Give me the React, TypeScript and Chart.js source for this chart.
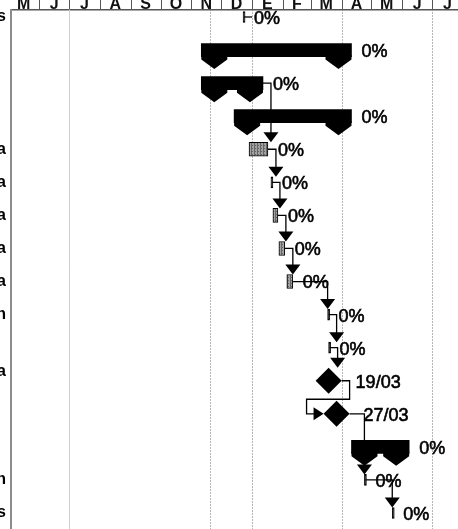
import { useEffect, useRef } from 'react';
import { Chart, registerables } from 'chart.js';

Chart.register(...registerables);

// ---- timescale -------------------------------------------------------------
const BASE_DATE = '2008-05-01';
const MONTH_LETTERS = ['M', 'J', 'J', 'A', 'S', 'O', 'N', 'D', 'E', 'F', 'M', 'A', 'M', 'J', 'J'];
const VIEW_START = 2.66; // days after BASE_DATE visible at the table divider
const VIEW_END = 452.1;

// ---- rows (top to bottom) ---------------------------------------------------
// Only the last letters of the task names are visible next to the divider.
const ROW_LABELS: (string | string[])[] = ['s', '', '', '', 'a', 'a', 'a', 'a', 'a', 'n', '', ['a', ''], '', '', 'n', 's'];
const TASK_KIND = ['point', 'summary', 'summary', 'summary', 'task', 'point', 'task', 'task', 'task', 'point', 'point', 'milestone', 'milestone', 'summary', 'point', 'point'];
const TASK_START = ['2008-12-23', '2008-11-11', '2008-11-11', '2008-12-14', '2008-12-29', '2009-01-20', '2009-01-22', '2009-01-28', '2009-02-05', '2009-03-18', '2009-03-19', '2009-03-19', '2009-03-27', '2009-04-11', '2009-04-24', '2009-05-22'];
const TASK_END = ['2008-12-23', '2009-04-11', '2009-01-12', '2009-04-11', '2009-01-17', '2009-01-20', '2009-01-27', '2009-02-03', '2009-02-11', '2009-03-18', '2009-03-19', '2009-03-19', '2009-03-27', '2009-06-08', '2009-04-24', '2009-05-22'];
const PERCENT_DONE = [0, 0, 0, 0, 0, 0, 0, 0, 0, 0, 0, 0, 0, 0, 0, 0];

// finish-to-start links: [from row, to row, routing]
const LINKS: [number, number, 'down' | 'back'][] = [
  [2, 4, 'down'],
  [4, 5, 'down'],
  [5, 6, 'down'],
  [6, 7, 'down'],
  [7, 8, 'down'],
  [8, 9, 'down'],
  [9, 10, 'down'],
  [10, 11, 'down'],
  [11, 12, 'back'],
  [12, 14, 'down'],
  [14, 15, 'down'],
];
const STUB_ROWS = [0];

// vertical markers in the bar area
const DOTTED_DATES = ['2008-11-20', '2009-01-01', '2009-04-01', '2009-07-01'];
const LIGHT_DATES = ['2008-07-01'];

// ---- helpers -----------------------------------------------------------------
const DAY_MS = 86400000;
const baseMs = Date.parse(BASE_DATE + 'T00:00:00Z');
const dayOf = (s: string) => (Date.parse(s + 'T00:00:00Z') - baseMs) / DAY_MS;
const ddmm = (s: string) => `${s.slice(8, 10)}/${s.slice(5, 7)}`;

const monthBounds: number[] = [];
for (let i = 0; i <= MONTH_LETTERS.length; i++) {
  const d = new Date(baseMs);
  d.setUTCMonth(d.getUTCMonth() + i);
  monthBounds.push((d.getTime() - baseMs) / DAY_MS);
}
const monthMids = MONTH_LETTERS.map((_, i) => (monthBounds[i] + monthBounds[i + 1]) / 2);

const rowsOf = (kind: string) => TASK_KIND.map((k, i) => (k === kind ? i : -1)).filter((i) => i >= 0);

const MS_R = 13; // milestone half-diagonal
const FONT = 'Liberation Sans, Arial, sans-serif';

function makeHatch(): CanvasPattern | string {
  const c = document.createElement('canvas');
  c.width = 3;
  c.height = 3;
  const g = c.getContext('2d');
  if (!g) return '#8f8f8f';
  g.fillStyle = '#a2a2a2';
  g.fillRect(0, 0, 3, 3);
  g.fillStyle = '#666';
  g.fillRect(2, 0, 1, 3);
  g.fillRect(0, 1, 1, 1);
  return g.createPattern(c, 'repeat') || '#8f8f8f';
}

const ganttDecor = {
  id: 'ganttDecor',
  beforeDatasetsDraw(chart: any) {
    const { ctx, chartArea: a, scales } = chart;
    const xs = scales.x;
    ctx.save();
    // month separators in the header
    ctx.strokeStyle = '#555';
    ctx.lineWidth = 1;
    monthBounds.forEach((b) => {
      if (b <= VIEW_START || b >= VIEW_END) return;
      const x = Math.round(xs.getPixelForValue(b)) + 0.5;
      ctx.beginPath();
      ctx.moveTo(x, 0);
      ctx.lineTo(x, a.top);
      ctx.stroke();
    });
    // markers in the bar area
    ctx.strokeStyle = '#cfcfcf';
    LIGHT_DATES.forEach((s) => {
      const x = Math.round(xs.getPixelForValue(dayOf(s))) + 0.5;
      ctx.beginPath();
      ctx.moveTo(x, a.top);
      ctx.lineTo(x, a.bottom);
      ctx.stroke();
    });
    ctx.strokeStyle = '#6f6f6f';
    ctx.setLineDash([1, 2]);
    DOTTED_DATES.forEach((s) => {
      const x = Math.round(xs.getPixelForValue(dayOf(s))) + 0.5;
      ctx.beginPath();
      ctx.moveTo(x, a.top);
      ctx.lineTo(x, a.bottom);
      ctx.stroke();
    });
    ctx.restore();
  },
  afterDatasetsDraw(chart: any) {
    const { ctx, scales } = chart;
    const xs = scales.x;
    const ys = scales.y;
    const px = (d: number) => xs.getPixelForValue(d);
    const rowY = (r: number) => ys.getPixelForValue(r);
    const startPx = (r: number) => px(dayOf(TASK_START[r]));
    const endPx = (r: number) => {
      const k = TASK_KIND[r];
      if (k === 'milestone') return px(dayOf(TASK_START[r])) + MS_R;
      if (k === 'point') return px(dayOf(TASK_END[r])) + 1;
      return px(dayOf(TASK_END[r]));
    };
    const anchorPx = (r: number) => (TASK_KIND[r] === 'milestone' ? px(dayOf(TASK_START[r])) : startPx(r));
    const topOf = (r: number) => {
      const k = TASK_KIND[r];
      const y = rowY(r);
      if (k === 'milestone') return y - MS_R;
      if (k === 'point') return y - 5.5;
      if (k === 'summary') return y - 6.5;
      return y - 7;
    };

    ctx.save();
    // summary end caps
    ctx.fillStyle = '#000';
    rowsOf('summary').forEach((r) => {
      const y = rowY(r);
      const caps = [startPx(r), endPx(r) - 26];
      caps.forEach((x0) => {
        ctx.beginPath();
        ctx.moveTo(x0, y + 5);
        ctx.lineTo(x0, y + 9.5);
        ctx.lineTo(x0 + 13, y + 19);
        ctx.lineTo(x0 + 26, y + 9.5);
        ctx.lineTo(x0 + 26, y + 5);
        ctx.closePath();
        ctx.fill();
      });
    });

    // links
    ctx.strokeStyle = '#000';
    ctx.lineWidth = 1.3;
    const downArrow = (x: number, tip: number) => {
      ctx.beginPath();
      ctx.moveTo(x, tip);
      ctx.lineTo(x - 7.5, tip - 10);
      ctx.lineTo(x + 7.5, tip - 10);
      ctx.closePath();
      ctx.fill();
    };
    LINKS.forEach(([from, to, route]) => {
      const x0 = endPx(from);
      const y0 = rowY(from);
      if (route === 'down') {
        const xl = Math.max(x0 + 8, anchorPx(to));
        const tip = topOf(to);
        ctx.beginPath();
        ctx.moveTo(x0, y0);
        ctx.lineTo(xl, y0);
        ctx.lineTo(xl, tip - 8);
        ctx.stroke();
        downArrow(xl, tip);
      } else {
        const xr = x0 + 8;
        const yMid = (rowY(from) + rowY(to)) / 2 + 2;
        const tipX = anchorPx(to) - (TASK_KIND[to] === 'milestone' ? MS_R : 0);
        const xLeft = tipX - 17;
        const yT = rowY(to);
        ctx.beginPath();
        ctx.moveTo(x0, y0);
        ctx.lineTo(xr, y0);
        ctx.lineTo(xr, yMid);
        ctx.lineTo(xLeft, yMid);
        ctx.lineTo(xLeft, yT);
        ctx.lineTo(tipX - 8, yT);
        ctx.stroke();
        ctx.beginPath();
        ctx.moveTo(tipX, yT);
        ctx.lineTo(tipX - 10, yT - 6.5);
        ctx.lineTo(tipX - 10, yT + 6.5);
        ctx.closePath();
        ctx.fill();
      }
    });
    STUB_ROWS.forEach((r) => {
      const x0 = endPx(r);
      const y = rowY(r);
      ctx.beginPath();
      ctx.moveTo(x0, y);
      ctx.lineTo(x0 + 8, y);
      ctx.stroke();
    });

    // bar texts (a light outline gives the printed weight)
    ctx.fillStyle = '#000';
    ctx.strokeStyle = '#000';
    ctx.lineWidth = 0.6;
    ctx.font = `18px ${FONT}`;
    ctx.textBaseline = 'middle';
    ctx.textAlign = 'left';
    TASK_KIND.forEach((k, r) => {
      const y = rowY(r) + 2;
      const text = k === 'milestone' ? ddmm(TASK_START[r]) : `${PERCENT_DONE[r]}%`;
      const x = k === 'milestone' ? px(dayOf(TASK_START[r])) + 27 : endPx(r) + 10;
      ctx.fillText(text, x, y);
      ctx.strokeText(text, x, y);
    });
    ctx.restore();
  },
};

export default function App() {
  const ref = useRef<HTMLCanvasElement>(null);

  useEffect(() => {
    const canvas = ref.current;
    if (!canvas) return;
    const hatch = makeHatch();

    const chart = new Chart(canvas, {
      type: 'bar',
      data: {
        datasets: [
          {
            label: 'summary',
            data: rowsOf('summary').map((r) => ({ x: [dayOf(TASK_START[r]), dayOf(TASK_END[r])], y: r })) as any,
            backgroundColor: '#000',
            borderWidth: 0,
            barThickness: 13,
            grouped: false,
          },
          {
            label: 'tasks',
            data: rowsOf('task').map((r) => ({ x: [dayOf(TASK_START[r]), dayOf(TASK_END[r])], y: r })) as any,
            backgroundColor: hatch as any,
            borderColor: '#000',
            borderWidth: 1,
            borderSkipped: false,
            barThickness: 14,
            grouped: false,
          },
          {
            label: 'short tasks',
            data: rowsOf('point').map((r) => ({ x: [dayOf(TASK_START[r]), dayOf(TASK_END[r])], y: r })) as any,
            backgroundColor: '#000',
            borderColor: '#000',
            borderWidth: 1,
            borderSkipped: false,
            barThickness: 11,
            minBarLength: 2,
            grouped: false,
          },
          {
            type: 'scatter',
            label: 'milestones',
            data: rowsOf('milestone').map((r) => ({ x: dayOf(TASK_START[r]), y: r })) as any,
            pointStyle: 'rectRot',
            pointRadius: MS_R,
            backgroundColor: '#000',
            borderColor: '#000',
            borderWidth: 0,
            xAxisID: 'x',
            yAxisID: 'y',
          } as any,
        ],
      },
      options: {
        indexAxis: 'y',
        responsive: false,
        animation: false,
        devicePixelRatio: 1,
        layout: { padding: 0, autoPadding: false },
        plugins: { legend: { display: false }, tooltip: { enabled: false } },
        scales: {
          x: {
            type: 'linear',
            position: 'top',
            offset: false,
            min: VIEW_START,
            max: VIEW_END,
            grid: { display: false, drawTicks: false, offset: false },
            border: { display: true, color: '#555', width: 1.5 },
            ticks: {
              autoSkip: false,
              maxRotation: 0,
              padding: -4.5,
              color: '#111',
              font: { family: FONT, size: 16, weight: 'bold' },
              callback: (_v: any, i: number) => MONTH_LETTERS[i],
            },
            afterBuildTicks: (s: any) => {
              s.ticks = monthMids.map((v) => ({ value: v }));
            },
            afterFit: (s: any) => {
              s.height = 21.5;
              s.paddingLeft = 0;
              s.paddingRight = 0;
            },
          },
          y: {
            type: 'linear',
            reverse: true,
            offset: false,
            min: -0.2268,
            max: 15.484,
            grid: { display: false, drawTicks: false, offset: false },
            border: { display: true, color: '#8c8c8c', width: 2 },
            ticks: {
              autoSkip: false,
              padding: 5,
              color: '#000',
              font: { family: FONT, size: 16, weight: 'bold' },
              callback: (_v: any, i: number) => ROW_LABELS[i] as any,
            },
            afterBuildTicks: (s: any) => {
              s.ticks = ROW_LABELS.map((_, i) => ({ value: i }));
            },
            afterFit: (s: any) => {
              s.width = 11;
              s.paddingTop = 0;
              s.paddingBottom = 0;
            },
          },
        },
      },
      plugins: [ganttDecor],
    } as any);

    return () => chart.destroy();
  }, []);

  return (
    <div style={{ position: 'fixed', left: 0, top: 0, width: 458, height: 529, overflow: 'hidden', background: '#fff' }}>
      <canvas ref={ref} width={458} height={541} style={{ position: 'absolute', left: 0, top: -12, display: 'block' }} />
    </div>
  );
}
